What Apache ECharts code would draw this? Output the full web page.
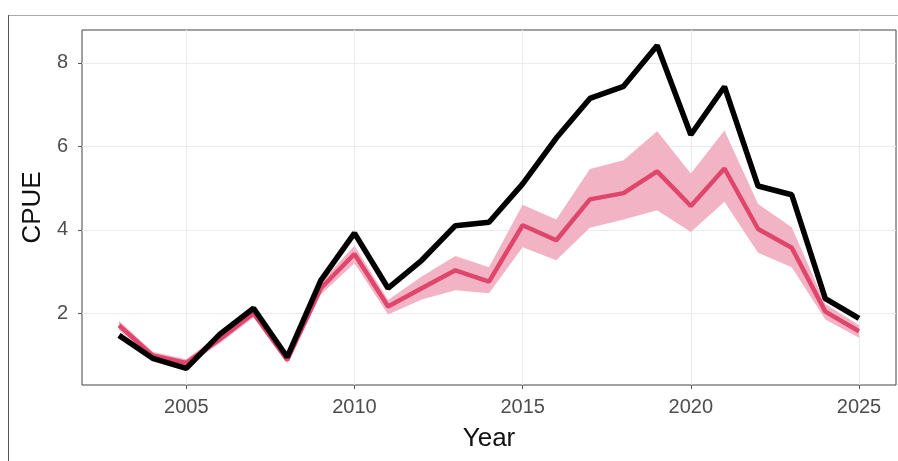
<!DOCTYPE html>
<html>
<head>
<meta charset="utf-8">
<script src="https://cdn.jsdelivr.net/npm/echarts@6/dist/echarts.min.js"></script>
<style>
html,body{margin:0;padding:0;background:#fff;}
#chart{width:898px;height:461px;}
</style>
</head>
<body>
<div id="chart"></div>
<script>
const years = [2003,2004,2005,2006,2007,2008,2009,2010,2011,2012,2013,2014,2015,2016,2017,2018,2019,2020,2021,2022,2023,2024,2025];
const observed = [1.47,0.92,0.68,1.50,2.12,0.95,2.79,3.92,2.60,3.27,4.10,4.18,5.10,6.20,7.15,7.44,8.42,6.28,7.43,5.05,4.84,2.35,1.88];
const predicted = [1.71,0.99,0.81,1.38,2.00,0.88,2.60,3.42,2.16,2.60,3.03,2.76,4.11,3.75,4.73,4.88,5.40,4.57,5.47,4.02,3.57,2.04,1.57];
const lower = [1.60,0.90,0.72,1.28,1.90,0.80,2.45,3.20,1.97,2.33,2.55,2.48,3.58,3.27,4.05,4.25,4.47,3.95,4.67,3.45,3.10,1.85,1.41];
const upper = [1.82,1.08,0.90,1.50,2.10,0.98,2.75,3.62,2.32,2.88,3.37,3.10,4.60,4.25,5.46,5.67,6.36,5.35,6.38,4.62,4.06,2.22,1.71];
const xTicks = [2005,2010,2015,2020,2025];
const yTicks = [2,4,6,8];

const pair = (a) => years.map((y,i) => [y, a[i]]);
const bandData = years.map((y,i) => [y, lower[i], upper[i]]);

const chart = echarts.init(document.getElementById('chart'), null, {renderer:'canvas'});
const font = 'Liberation Sans, Arial, sans-serif';
chart.setOption({
  animation: false,
  backgroundColor: '#fff',
  grid: {left: 82, top: 30, right: 2, bottom: 76, show: true, borderColor: '#444', borderWidth: 1, backgroundColor: 'transparent'},
  xAxis: {
    type: 'value', min: 2001.9, max: 2026.1,
    name: 'Year', nameLocation: 'middle', nameGap: 41,
    nameTextStyle: {fontFamily: font, fontSize: 26, color: '#111'},
    axisLine: {show: false},
    axisTick: {show: true, length: 4, customValues: xTicks, lineStyle: {color: '#555'}},
    axisLabel: {customValues: xTicks, formatter: v => String(v), fontFamily: font, fontSize: 20, color: '#4d4d4d', margin: 12},
    splitLine: {show: true, lineStyle: {color: '#ebebeb', width: 1}}
  },
  yAxis: {
    type: 'value', min: 0.28, max: 8.79,
    name: 'CPUE', nameLocation: 'middle', nameGap: 33,
    nameTextStyle: {fontFamily: font, fontSize: 26, color: '#111'},
    axisLine: {show: false},
    axisTick: {show: true, length: 4, customValues: yTicks, lineStyle: {color: '#555'}},
    axisLabel: {customValues: yTicks, formatter: v => String(v), fontFamily: font, fontSize: 20, color: '#4d4d4d', margin: 14},
    splitLine: {show: true, lineStyle: {color: '#ebebeb', width: 1}}
  },
  graphic: [
    {type: 'line', shape: {x1: 8, y1: 15.5, x2: 898, y2: 15.5}, style: {stroke: '#aaa', lineWidth: 1}},
    {type: 'line', shape: {x1: 8.5, y1: 15, x2: 8.5, y2: 461}, style: {stroke: '#555', lineWidth: 1}}
  ],
  series: [
    {
      type: 'custom', name: 'Interval', data: bandData, silent: true, z: 1,
      encode: {x: 0, y: [1, 2]},
      renderItem: function (params, api) {
        if (params.dataIndex !== 0) return null;
        const top = [], bot = [];
        for (let i = 0; i < bandData.length; i++) {
          top.push(api.coord([bandData[i][0], bandData[i][2]]));
          bot.push(api.coord([bandData[i][0], bandData[i][1]]));
        }
        return {
          type: 'polygon',
          shape: {points: top.concat(bot.reverse())},
          style: {fill: '#f2b3c4', stroke: null}
        };
      }
    },
    {type: 'line', name: 'Predicted', data: pair(predicted), symbol: 'none', lineStyle: {color: '#e0456c', width: 4.5}, z: 2},
    {type: 'line', name: 'Observed', data: pair(observed), symbol: 'none', lineStyle: {color: '#000', width: 5.5}, z: 3}
  ]
});
</script>
</body>
</html>
